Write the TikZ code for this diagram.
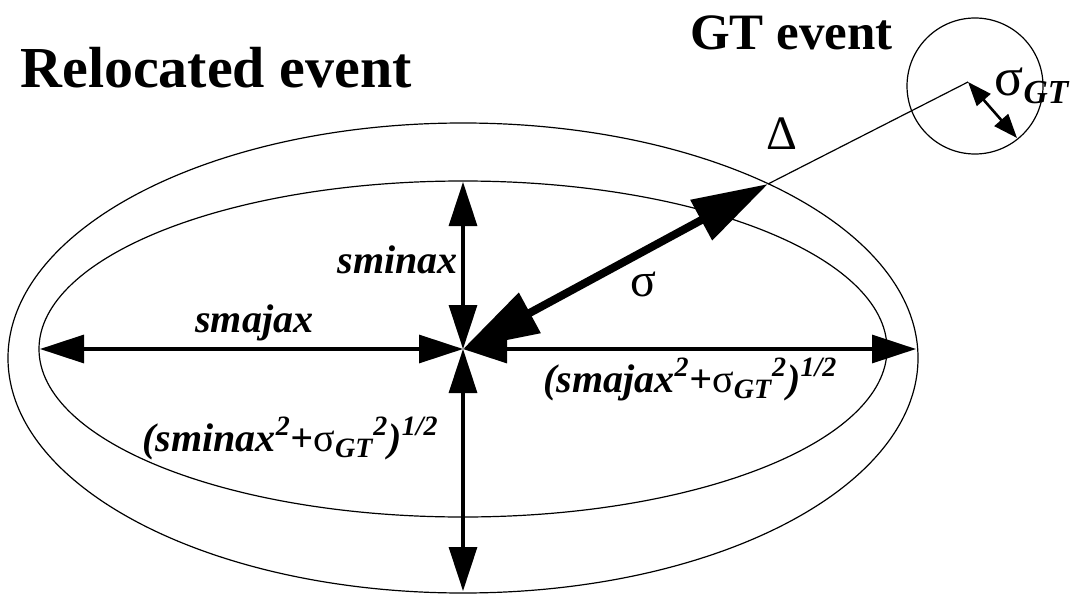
\documentclass[tikz,border=0pt]{standalone}
\usepackage{fontspec}
\setmainfont{Liberation Serif}
\usetikzlibrary{arrows.meta}

\begin{document}
\begin{tikzpicture}[x=0.5pt, y=-0.5pt,
  thinl/.style={line width=0.6pt},
  arr/.style={{Triangle[length=22pt,width=14pt]}-{Triangle[length=22pt,width=14pt]}, line width=1.6pt},
  bigarr/.style={{Triangle[length=38pt,width=22pt]}-{Triangle[length=38pt,width=22pt]}, line width=4pt},
  smallarr/.style={{Triangle[length=12pt,width=9pt]}-{Triangle[length=12pt,width=9pt]}, line width=1.3pt},
  lbl/.style={font=\fontsize{20}{24}\selectfont\bfseries\itshape, inner sep=0pt},
  ttl/.style={font=\fontsize{29}{34}\selectfont\bfseries, inner sep=0pt},
  grk/.style={font=\fontsize{24}{28}\selectfont, inner sep=0pt}]
\useasboundingbox (0,0) rectangle (1079,593);
% error ellipses and GT circle
\draw[thinl] (463,349) ellipse [x radius=424, y radius=168];
\draw[thinl] (463,358) ellipse [x radius=455, y radius=235];
\draw[thinl] (975,86) circle [radius=68];
% points
\coordinate (c) at (463,349);
\coordinate (majL) at (40,349);
\coordinate (majR) at (916,349);
\coordinate (minT) at (463,182);
\coordinate (minB) at (463,591);
\coordinate (d) at (768,184);
\coordinate (gt) at (968,82);
\coordinate (gtr) at (1017,138);
% axes
\draw[arr] (majL) -- (c);
\draw[arr] (c) -- (majR);
\draw[arr] (minT) -- (c);
\draw[arr] (c) -- (minB);
\draw[bigarr] (c) -- (d);
\draw[thinl] (d) -- (gt);
\draw[smallarr] (gt) -- (gtr);
% labels
\node[ttl, anchor=base west] (reloc) at (20,88) {Relocated event};
\node[ttl, font=\fontsize{25.5}{30}\selectfont\bfseries, anchor=base east] (gtev) at (893,50) {GT event};
\node[lbl, anchor=base west] (lmaj) at (195,332) {smajax};
\node[lbl, anchor=base east] (lmin) at (458,273) {sminax};
\node[lbl, anchor=base west] (lmajgt) at (543,392) {(smajax\textsuperscript{2}+{\mdseries\upshape σ}\textsubscript{GT}\textsuperscript{2})\textsuperscript{1/2}};
\node[lbl, anchor=base west] (lmingt) at (142,451) {(sminax\textsuperscript{2}+{\mdseries\upshape σ}\textsubscript{GT}\textsuperscript{2})\textsuperscript{1/2}};
\node[grk] (lsig) at (643,284) {σ};
\node[grk] (ldel) at (782,134) {Δ};
\node[grk, font=\fontsize{27}{30}\selectfont, anchor=base west] (lsiggt) at (994,96) {σ{\fontsize{24}{26}\selectfont\bfseries\itshape\textsubscript{GT}}};
\end{tikzpicture}
\end{document}
